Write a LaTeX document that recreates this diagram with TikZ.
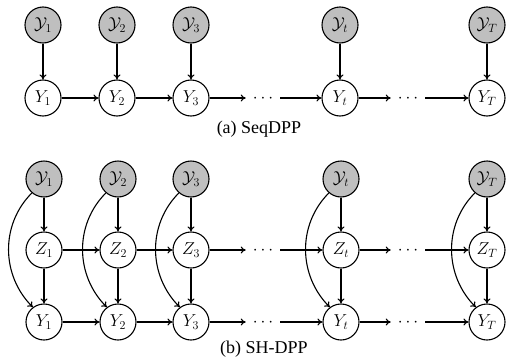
\documentclass[tikz,border=0pt]{standalone}
\usepackage{fontspec}
\newfontfamily\capfont{Liberation Serif}
\usetikzlibrary{arrows.meta}
\begin{document}
\begin{tikzpicture}[x=1pt,y=1pt,
  var/.style={circle,draw,line width=1.1pt,minimum size=36pt,inner sep=0pt,font=\LARGE},
  obs/.style={var,fill=black!25},
  dotsn/.style={inner xsep=7pt,inner ysep=0pt,font=\LARGE,text height=8.6pt,text depth=0pt},
  arr/.style={-{To[length=5pt,width=7pt]},line width=1.1pt},
  captext/.style={font=\capfont\fontsize{18}{21}\selectfont}]
\useasboundingbox (0,0) rectangle (511,360);
% (a)
\foreach \n/\x/\s in {1/43/1,2/117/2,3/191/3,t/340/t,T/487/T}{
  \node[obs] (ya\n) at (\x,335) {$\mathcal{Y}_{\s}$};
  \node[var] (Ya\n) at (\x,262) {$Y_{\s}$};
  \draw[arr] (ya\n) -- (Ya\n);
}
\node[dotsn] (da1) at (263,262) {$\cdots$};
\node[dotsn] (da2) at (408,262) {$\cdots$};
\draw[arr] (Ya1) -- (Ya2);
\draw[arr] (Ya2) -- (Ya3);
\draw[arr] (Ya3) -- (da1);
\draw[arr] (da1) -- (Yat);
\draw[arr] (Yat) -- (da2);
\draw[arr] (da2) -- (YaT);
\node[captext] (capa) at (259,231) {(a) SeqDPP};
% (b)
\foreach \n/\x/\s in {1/44/1,2/118/2,3/191/3,t/341/t,T/487/T}{
  \node[obs] (yb\n) at (\x,181) {$\mathcal{Y}_{\s}$};
  \node[var] (zb\n) at (\x,110) {$Z_{\s}$};
  \node[var] (Yb\n) at (\x,38) {$Y_{\s}$};
  \draw[arr] (yb\n) -- (zb\n);
  \draw[arr] (zb\n) -- (Yb\n);
  \draw[arr] (yb\n.229) to[out=225,in=135] (Yb\n.127);
}
\node[dotsn] (dz1) at (263,110) {$\cdots$};
\node[dotsn] (dz2) at (408,110) {$\cdots$};
\node[dotsn] (dy1) at (263,38) {$\cdots$};
\node[dotsn] (dy2) at (408,38) {$\cdots$};
\foreach \rw/\dw in {zb/dz,Yb/dy}{
  \draw[arr] (\rw1) -- (\rw2);
  \draw[arr] (\rw2) -- (\rw3);
  \draw[arr] (\rw3) -- (\dw1);
  \draw[arr] (\dw1) -- (\rw t);
  \draw[arr] (\rw t) -- (\dw2);
  \draw[arr] (\dw2) -- (\rw T);
}
\node[captext] (capb) at (264,11) {(b) SH-DPP};
\end{tikzpicture}
\end{document}
